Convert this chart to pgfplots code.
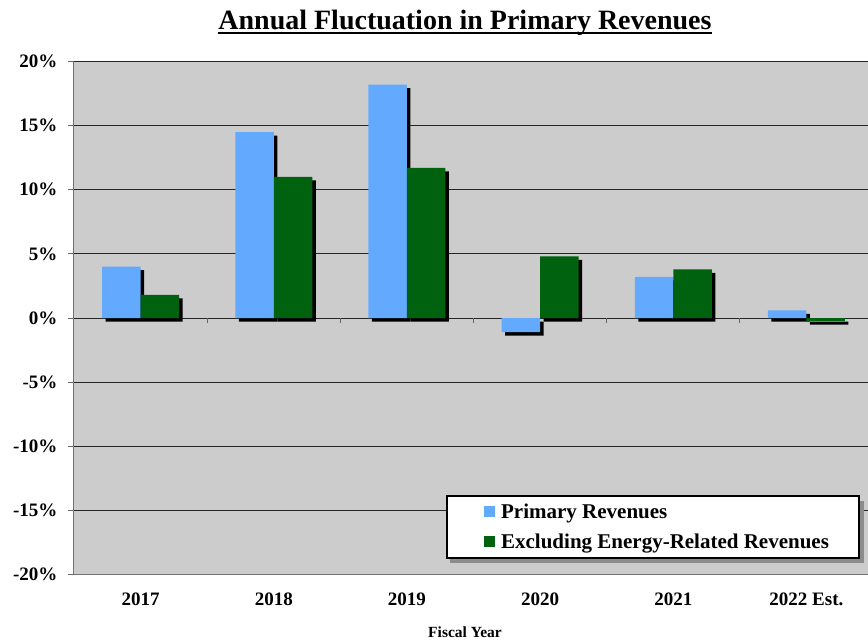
\documentclass[border=0pt]{standalone}
\usepackage{fontspec}
\setmainfont{Liberation Serif}
\usepackage{pgfplots}
\usepackage{pgfplotstable}
\pgfplotsset{compat=1.18}
\definecolor{primblue}{HTML}{63AAFF}
\definecolor{exgreen}{HTML}{00620F}
\definecolor{plotgray}{HTML}{CCCCCC}
\newcommand\ulbox[1]{\setbox0\hbox{#1}\rlap{\rule[-4pt]{\wd0}{2pt}}\box0}

\pgfplotstableread{
x prim excl
0 4.0 1.8
1 14.5 11.0
2 18.2 11.7
3 -1.1 4.8
4 3.2 3.8
5 0.6 -0.25
}\datatable

\pgfplotsset{sqlegend/.style={legend image code/.code={\path (-29pt,0pt) (15pt,0pt); \fill[##1,draw=none] (0pt,-5.5pt) rectangle (11pt,5.5pt);}}}

\begin{document}
\begin{tikzpicture}
\path[use as bounding box] (-74pt,-68.5pt) rectangle (794pt,574.5pt);
\begin{axis}[
  at={(0,0)}, anchor=south west,
  scale only axis,
  width=799pt, height=513pt,
  xmin=-0.5, xmax=5.5,
  ymin=-20, ymax=20,
  ybar, bar width=38.5pt,
  axis background/.style={fill=plotgray},
  axis lines*=left,
  axis line style={black!55, line width=1pt},
  ymajorgrids,
  grid style={black!85, line width=0.9pt},
  ytick={-20,-15,-10,-5,0,5,10,15,20},
  yticklabels={-20\%,-15\%,-10\%,-5\%,0\%,5\%,10\%,15\%,20\%},
  xtick={0,1,2,3,4,5},
  xticklabels={2017,2018,2019,2020,2021,2022 Est.},
  tick align=outside,
  major tick length=6pt,
  ytick style={black!60, line width=0.8pt},
  xtick style={draw=none},
  yticklabel style={font=\fontsize{19}{19}\selectfont\bfseries, xshift=-7pt},
  xticklabel style={font=\fontsize{19}{19}\selectfont\bfseries, anchor=base, yshift=-25pt},
  title={\ulbox{Annual Fluctuation in Primary Revenues}},
  title style={at={(axis description cs:0.4894,1)}, anchor=base, yshift=26pt, font=\fontsize{28}{28}\selectfont\bfseries},
  xlabel={Fiscal Year},
  xlabel style={at={(axis description cs:0.4894,0)}, anchor=base, yshift=-63pt, font=\fontsize{15.5}{15.5}\selectfont\bfseries},
  legend style={at={(axis description cs:0.9837,0.0302)}, anchor=south east, draw=black, line width=2pt, fill=white,
    font=\fontsize{21}{21}\selectfont\bfseries, inner xsep=8pt, inner ysep=6pt, row sep=10pt},
  legend cell align=left,
]
\addplot[fill=black, draw=none, bar shift=-19.25pt, xshift=3.5pt, yshift=-3.5pt, forget plot] table[x=x,y=prim]{\datatable};
\addplot[fill=black, draw=none, bar shift=19.25pt, xshift=3.5pt, yshift=-3.5pt, forget plot] table[x=x,y=excl]{\datatable};
\addplot[fill=primblue, draw=none, bar shift=-19.25pt, sqlegend] table[x=x,y=prim]{\datatable};
\addplot[fill=exgreen, draw=none, bar shift=19.25pt, sqlegend] table[x=x,y=excl]{\datatable};
\addlegendentry{Primary Revenues}
\addlegendentry{Excluding Energy-Related Revenues\hspace*{20pt}}
\pgfplotsinvokeforeach{0.5,1.5,2.5,3.5,4.5}{\draw[black!60, line width=0.8pt] (axis cs:#1,0) -- ([yshift=-5pt]axis cs:#1,0);}
\fill[black!45] ([xshift=4pt,yshift=-4pt]axis description cs:0.4656,0.0302) rectangle ([xshift=4pt,yshift=-4pt]axis description cs:0.9837,0.1511);
\end{axis}
\end{tikzpicture}
\end{document}
